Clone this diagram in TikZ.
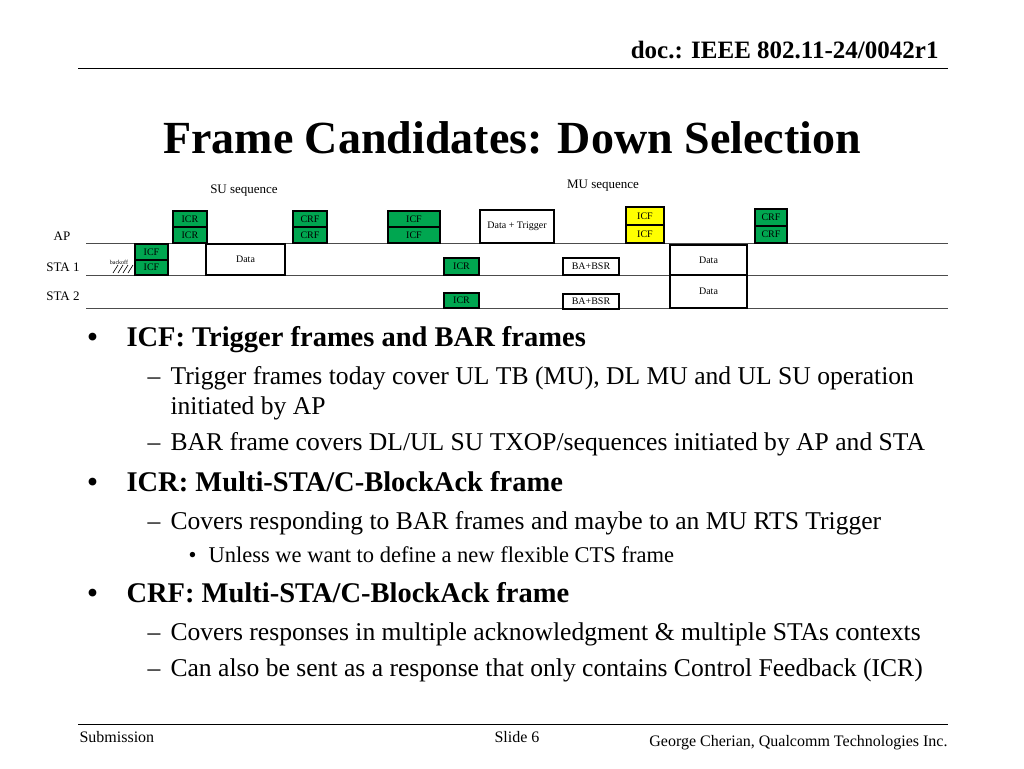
\documentclass[tikz,border=0pt]{standalone}
\usepackage{fontspec}
\setmainfont{Liberation Serif}
\usetikzlibrary{positioning}
\definecolor{frgreen}{RGB}{0,166,80}
\definecolor{fryellow}{RGB}{255,255,0}

\begin{document}
\begin{tikzpicture}[x=1pt,y=-1pt,
    frame/.style={draw=black,line width=2pt,inner sep=0pt,font=\fontsize{10}{10}\selectfont},
    gbox/.style={frame,fill=frgreen},
    ybox/.style={frame,fill=fryellow},
    wbox/.style={frame,fill=white},
    lane/.style={draw=black!70,line width=1pt},
    lbl/.style={font=\fontsize{13}{13}\selectfont},
    foot/.style={font=\fontsize{16}{16}\selectfont},
    bul/.style={anchor=base west,font=\fontsize{28.5}{28.5}\selectfont\bfseries},
    sub/.style={anchor=base west,font=\fontsize{25.6}{25.6}\selectfont},
    subsub/.style={anchor=base west,font=\fontsize{22.5}{22.5}\selectfont}]
  \useasboundingbox (0,0) rectangle (1024,768);
  % header
  \node[anchor=base east,font=\fontsize{25}{25}\selectfont\bfseries] (doc) at (942,59) {doc.: IEEE 802.11-24/0042r1};
  \draw[line width=1pt] (78,68) -- (948,68);
  \node[font=\fontsize{46}{46}\selectfont\bfseries] (title) at (512,138) {Frame Candidates: Down Selection};
  % lanes
  \coordinate (apL) at (86,243); \coordinate (apR) at (948,243);
  \coordinate (s1L) at (86,275); \coordinate (s1R) at (948,275);
  \coordinate (s2L) at (86,308); \coordinate (s2R) at (948,308);
  \draw[lane] (apL) -- (apR);
  \draw[lane] (s1L) -- (s1R);
  \draw[lane] (s2L) -- (s2R);
  \node[lbl] (suseq) at (244,191) {SU sequence};
  \node[lbl] (museq) at (603,186) {MU sequence};
  \node[lbl] (ap) at (62,236) {AP};
  \node[lbl] (sta1) at (63,267) {STA 1};
  \node[lbl] (sta2) at (63,296) {STA 2};
  % SU sequence
  \node[font=\fontsize{6}{6}\selectfont] (boff) at (119,262) {backoff};
  \foreach \i in {0,...,3}
    \draw[line width=0.6pt] (113+5*\i,273) -- (118+5*\i,265);
  \node[gbox,minimum width=33,minimum height=15.5] (icfS1a) at (151.5,251.75) {ICF};
  \node[gbox,minimum width=33,minimum height=15.5] (icfS1b) at (151.5,267.25) {ICF};
  \node[gbox,minimum width=34,minimum height=16] (icrA1) at (190,219) {ICR};
  \node[gbox,minimum width=34,minimum height=16] (icrA2) at (190,235) {ICR};
  \node[wbox,minimum width=79,minimum height=31] (dataS1) at (245.5,259.5) {Data};
  \node[gbox,minimum width=34,minimum height=16] (crfA1) at (310,219) {CRF};
  \node[gbox,minimum width=34,minimum height=16] (crfA2) at (310,235) {CRF};
  % MU sequence
  \node[gbox,minimum width=52,minimum height=16] (icfA1) at (414,219) {ICF};
  \node[gbox,minimum width=52,minimum height=16] (icfA2) at (414,235) {ICF};
  \node[gbox,minimum width=35,minimum height=17] (icrS1) at (461.5,266.5) {ICR};
  \node[gbox,minimum width=35,minimum height=15] (icrS2) at (461.5,300.5) {ICR};
  \node[wbox,minimum width=74,minimum height=33] (dtrig) at (517,226.5) {Data + Trigger};
  \node[wbox,minimum width=56,minimum height=17] (baS1) at (591,266.5) {BA+BSR};
  \node[wbox,minimum width=56,minimum height=15] (baS2) at (591,301) {BA+BSR};
  \node[ybox,minimum width=38,minimum height=18] (yicf1) at (645,216) {ICF};
  \node[ybox,minimum width=38,minimum height=18] (yicf2) at (645,234) {ICF};
  \node[wbox,minimum width=77,minimum height=30] (dataM1) at (708.5,260) {Data};
  \node[wbox,minimum width=77,minimum height=33] (dataM2) at (708.5,291.5) {Data};
  \node[gbox,minimum width=32,minimum height=17] (crfM1) at (771,217.5) {CRF};
  \node[gbox,minimum width=32,minimum height=17] (crfM2) at (771,234.5) {CRF};
  % bullets
  \node[bul] (b1m) at (84,346) {\textbullet};
  \node[bul] (b1) at (123,346) {ICF: Trigger frames and BAR frames};
  \node[sub] (s1m) at (144,384) {--};
  \node[sub] (s1) at (167,384) {Trigger frames today cover UL TB (MU), DL MU and UL SU operation};
  \node[sub] (s1c) at (167,414) {initiated by AP};
  \node[sub] (s2m) at (144,450) {--};
  \node[sub] (s2) at (167,450) {BAR frame covers DL/UL SU TXOP/sequences initiated by AP and STA};
  \node[bul] (b2m) at (84,491) {\textbullet};
  \node[bul] (b2) at (123,491) {ICR: Multi-STA/C-BlockAck frame};
  \node[sub] (s3m) at (144,529) {--};
  \node[sub] (s3) at (167,529) {Covers responding to BAR frames and maybe to an MU RTS Trigger};
  \node[subsub] (ss1m) at (185,562) {\textbullet};
  \node[subsub] (ss1) at (205,562) {Unless we want to define a new flexible CTS frame};
  \node[bul] (b3m) at (84,602) {\textbullet};
  \node[bul] (b3) at (123,602) {CRF: Multi-STA/C-BlockAck frame};
  \node[sub] (s4m) at (144,640) {--};
  \node[sub] (s4) at (167,640) {Covers responses in multiple acknowledgment \& multiple STAs contexts};
  \node[sub] (s5m) at (144,676) {--};
  \node[sub] (s5) at (167,676) {Can also be sent as a response that only contains Control Feedback (ICR)};
  % footer
  \draw[line width=1pt] (78,724) -- (948,724);
  \node[foot,anchor=base west] (subm) at (76,742) {Submission};
  \node[foot] (slide) at (517,737) {Slide 6};
  \node[foot,anchor=base east] (auth) at (951,746) {George Cherian, Qualcomm Technologies Inc.};
\end{tikzpicture}
\end{document}
